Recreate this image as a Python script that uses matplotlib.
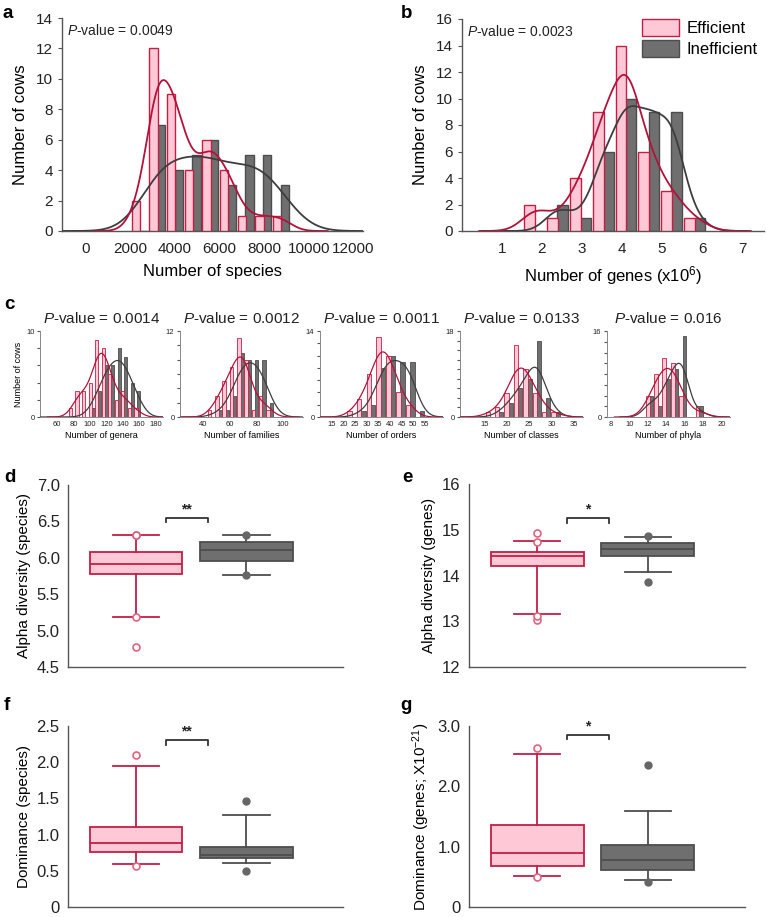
import matplotlib
matplotlib.use('Agg')
import matplotlib.pyplot as plt
from matplotlib.patches import Patch
import numpy as np

plt.rcParams['font.family'] = ['Liberation Sans', 'DejaVu Sans']
plt.rcParams['mathtext.fontset'] = 'custom'
plt.rcParams['mathtext.rm'] = 'Liberation Sans'
plt.rcParams['mathtext.it'] = 'Liberation Sans:italic'

# ---- data: histograms (bin centre, efficient count, inefficient count) ----
a_bins = [2450, 3240, 4030, 4820, 5610, 6400, 7190, 7980, 8770]
a_eff = [2, 12, 9, 4, 6, 4, 1, 1, 1]
a_ineff = [0, 7, 4, 5, 6, 3, 5, 5, 3]

b_bins = [1.83, 2.40, 2.97, 3.54, 4.11, 4.68, 5.25, 5.82]
b_eff = [2, 1, 4, 9, 14, 6, 3, 1]
b_ineff = [0, 2, 1, 6, 10, 9, 9, 1]

genera_bins = [78, 86, 94, 102, 110, 118, 126, 134, 142, 150, 158]
genera_eff = [1, 3, 3, 4, 9, 8, 5, 2, 3, 1, 1]
genera_ineff = [0, 0, 0, 1, 3, 6, 6, 8, 7, 4, 3]

families_bins = [46, 51.5, 57, 62.5, 68, 73.5, 79, 84.5, 90]
families_eff = [1, 3, 5, 7, 11, 8, 1, 3, 1]
families_ineff = [0, 1, 1, 3, 9, 8, 8, 8, 2]

orders_bins = [23.5, 27.7, 31.9, 36.1, 40.3, 44.5, 48.7, 52.9]
orders_eff = [1, 3, 7, 13, 10, 4, 2, 0]
orders_ineff = [0, 1, 2, 8, 10, 9, 9, 1]

classes_bins = [16.2, 18.3, 20.4, 22.5, 24.6, 26.7, 28.8, 30.9]
classes_eff = [1, 2, 5, 15, 10, 5, 1, 1]
classes_ineff = [0, 1, 3, 6, 8, 16, 4, 1]

phyla_bins = [12.2, 13.1, 14.0, 14.9, 15.8, 16.7, 17.6]
phyla_eff = [4, 8, 11, 10, 4, 0, 2]
phyla_ineff = [4, 2, 7, 9, 15, 0, 2]

p_values_c = ['0.0014', '0.0012', '0.0011', '0.0133', '0.016']
c_xlabels = ['Number of genera', 'Number of families', 'Number of orders',
             'Number of classes', 'Number of phyla']

# ---- data: box plots (q1, median, q3, low whisker, high whisker, outliers) ----
d_eff = dict(q1=5.78, med=5.91, q3=6.08, whislo=5.19, whishi=6.32, fliers=[6.32, 6.32, 5.19, 4.78])
d_ineff = dict(q1=5.96, med=6.11, q3=6.22, whislo=5.77, whishi=6.31, fliers=[6.32, 5.77])
e_eff = dict(q1=14.2, med=14.43, q3=14.52, whislo=13.15, whishi=14.75, fliers=[14.93, 14.73, 13.03, 13.12])
e_ineff = dict(q1=14.42, med=14.58, q3=14.7, whislo=14.07, whishi=14.85, fliers=[14.86, 13.85])
f_eff = dict(q1=0.76, med=0.88, q3=1.11, whislo=0.59, whishi=1.95, fliers=[2.1, 0.56])
f_ineff = dict(q1=0.67, med=0.72, q3=0.83, whislo=0.61, whishi=1.27, fliers=[1.46, 0.5])
g_eff = dict(q1=0.68, med=0.9, q3=1.36, whislo=0.52, whishi=2.54, fliers=[2.64, 0.5])
g_ineff = dict(q1=0.61, med=0.78, q3=1.02, whislo=0.45, whishi=1.59, fliers=[2.35, 0.42])

PINK_FILL = '#FFC8D7'
PINK_EDGE = '#C41E45'
PINK_LINE = '#B3123A'
PINK_FLIER = '#E0637F'
GRAY_FILL = '#6F6F6F'
GRAY_EDGE = '#4D4D4D'
GRAY_LINE = '#3E3E3E'
AX_COL = '#555555'

W, H = 766, 917
fig = plt.figure(figsize=(W / 100, H / 100), dpi=100)


def px_axes(l, t, r, b):
    return fig.add_axes([l / W, 1 - b / H, (r - l) / W, (b - t) / H])


def fig_text(x, y, s, **kw):
    fig.text(x / W, 1 - y / H, s, **kw)


def style_axes(ax):
    for s in ['top', 'right']:
        ax.spines[s].set_visible(False)
    for s in ['left', 'bottom']:
        ax.spines[s].set_color(AX_COL)
        ax.spines[s].set_linewidth(1.0)
    ax.tick_params(colors=AX_COL, labelcolor='#222222')


def kde(bins, counts, h, step):
    bins = np.asarray(bins, float)
    counts = np.asarray(counts, float)
    xs = np.linspace(bins.min() - 4 * h, bins.max() + 4 * h, 400)
    u = (xs[:, None] - bins[None, :]) / h
    dens = (counts[None, :] * np.exp(-0.5 * u ** 2)).sum(axis=1) / (h * np.sqrt(2 * np.pi))
    return xs, dens * step


def hist_panel(ax, bins, eff, ineff, h_eff, h_ineff, lw=1.3, edge_lw=1.0):
    step = bins[1] - bins[0]
    w = 0.47 * step
    bins = np.asarray(bins, float)
    ax.bar(bins + w / 2 - 0.03 * step, ineff, width=w, color=GRAY_FILL, edgecolor=GRAY_EDGE,
           linewidth=edge_lw, zorder=2)
    ax.bar(bins - w / 2, eff, width=w, color=PINK_FILL, edgecolor=PINK_EDGE,
           linewidth=edge_lw, zorder=3)
    x, y = kde(bins, ineff, h_ineff, step)
    ax.plot(x, y, color=GRAY_LINE, lw=lw, zorder=4)
    x, y = kde(bins, eff, h_eff, step)
    ax.plot(x, y, color=PINK_LINE, lw=lw, zorder=5)
    style_axes(ax)


# ---------------- panel a ----------------
ax = px_axes(62, 18, 363, 231)
hist_panel(ax, a_bins, a_eff, a_ineff, 520, 1000)
ax.set_xlim(-1045, 12430)
ax.set_ylim(0, 14)
ax.set_xticks(np.arange(0, 12001, 2000))
ax.set_yticks(np.arange(0, 15, 2))
ax.tick_params(axis='x', length=0, labelsize=11, pad=8)
ax.tick_params(axis='y', length=3, labelsize=11)
ax.set_xlabel('Number of species', fontsize=12, labelpad=6)
ax.set_ylabel('Number of cows', fontsize=12, labelpad=6)
ax.text(0.015, 0.975, r'$\mathit{P}$-value = 0.0049', transform=ax.transAxes, fontsize=10,
        va='top', color='#222222')

# ---------------- panel b ----------------
ax = px_axes(462, 19, 764, 231)
hist_panel(ax, b_bins, b_eff, b_ineff, 0.35, 0.33)
ax.set_xlim(0, 7.55)
ax.set_ylim(0, 16)
ax.set_xticks(np.arange(1, 8))
ax.set_yticks(np.arange(0, 17, 2))
ax.tick_params(axis='x', length=0, labelsize=11, pad=8)
ax.tick_params(axis='y', length=3, labelsize=11)
ax.set_xlabel(r'Number of genes (x10$^6$)', fontsize=12, labelpad=6)
ax.set_ylabel('Number of cows', fontsize=12, labelpad=6)
ax.text(0.015, 0.975, r'$\mathit{P}$-value = 0.0023', transform=ax.transAxes, fontsize=10,
        va='top', color='#222222')
handles = [Patch(facecolor=PINK_FILL, edgecolor=PINK_EDGE, label='Efficient'),
           Patch(facecolor=GRAY_FILL, edgecolor=GRAY_EDGE, label='Inefficient')]
ax.legend(handles=handles, loc='upper right', bbox_to_anchor=(1.03, 1.07), frameon=False,
          fontsize=12, handlelength=2.2, handleheight=1.2, labelspacing=0.2, handletextpad=0.5)

# ---------------- panel c ----------------
c_specs = [
    (genera_bins, genera_eff, genera_ineff, 7.5, 10, (39, 189), 10, np.arange(60, 181, 20)),
    (families_bins, families_eff, families_ineff, 5.5, 7, (22.5, 115), 12, np.arange(40, 101, 20)),
    (orders_bins, orders_eff, orders_ineff, 3.4, 3.6, (10, 62.7), 14, np.arange(15, 56, 5)),
    (classes_bins, classes_eff, classes_ineff, 2.1, 1.9, (9.5, 37), 18, np.arange(15, 36, 5)),
    (phyla_bins, phyla_eff, phyla_ineff, 0.95, 0.8, (7.6, 20.9), 16, np.arange(8, 21, 2)),
]
c_lefts = [40, 180, 320, 460, 607]
for i, (bins, eff, ineff, he, hi, xl, ymax, xt) in enumerate(c_specs):
    l = c_lefts[i]
    ax = px_axes(l, 331, l + 123, 417)
    hist_panel(ax, bins, eff, ineff, he, hi, lw=0.9, edge_lw=0.6)
    ax.set_xlim(*xl)
    ax.set_ylim(0, ymax)
    ax.set_xticks(xt)
    yt = np.arange(0, ymax + 1, 2)
    ax.set_yticks(yt)
    ax.set_yticklabels([str(v) if v in (0, ymax) else '' for v in yt])
    ax.tick_params(axis='x', length=0, labelsize=5.5, pad=3)
    ax.tick_params(axis='y', length=2, labelsize=5.5, pad=2)
    for s in ['left', 'bottom']:
        ax.spines[s].set_linewidth(0.7)
        ax.spines[s].set_color('#888888')
    ax.set_xlabel(c_xlabels[i], fontsize=6.5, labelpad=2)
    if i == 0:
        ax.set_ylabel('Number of cows', fontsize=6.5, labelpad=2)
    ax.set_title(r'$\mathit{P}$-value = ' + p_values_c[i], fontsize=11, pad=6, color='#222222')


# ---------------- box plots ----------------
def box_panel(ax, eff, ineff, ylim, yticks, yticklabels, ylabel, bracket_y, stars, tick_h):
    stats = []
    for d in (eff, ineff):
        s = dict(d)
        s['fliers'] = np.array(d['fliers'])
        stats.append(s)
    common = dict(positions=[1, 2], widths=0.84, patch_artist=True, showfliers=True)
    bp = ax.bxp(stats, **common)
    cols = [(PINK_FILL, PINK_EDGE), (GRAY_FILL, GRAY_EDGE)]
    for k, (fc, ec) in enumerate(cols):
        bp['boxes'][k].set(facecolor=fc, edgecolor=ec, linewidth=1.3)
        bp['medians'][k].set(color=ec, linewidth=1.3)
        for wsk in bp['whiskers'][2 * k:2 * k + 2]:
            wsk.set(color=ec, linewidth=1.3)
        for cap in bp['caps'][2 * k:2 * k + 2]:
            cap.set(color=ec, linewidth=1.3, xdata=[1 + k - 0.21, 1 + k + 0.21])
    bp['fliers'][0].set(marker='o', markersize=5, markerfacecolor='white',
                        markeredgecolor=PINK_FLIER, markeredgewidth=1.2)
    bp['fliers'][1].set(marker='o', markersize=5, markerfacecolor='#666666',
                        markeredgecolor='#666666')
    ax.set_xlim(0.384, 2.876)
    ax.set_ylim(*ylim)
    ax.set_xticks([])
    ax.set_yticks(yticks)
    ax.set_yticklabels(yticklabels)
    ax.tick_params(axis='y', length=0, labelsize=12, pad=6)
    style_axes(ax)
    ax.set_ylabel(ylabel, fontsize=11, labelpad=4)
    x0, x1 = 1.27, 1.65
    ax.plot([x0, x0, x1, x1], [bracket_y - tick_h, bracket_y, bracket_y, bracket_y - tick_h],
            color='#333333', lw=1.3)
    ax.text((x0 + x1) / 2, bracket_y + tick_h * 0.4, stars, ha='center', va='bottom',
            fontsize=10, fontweight='bold', color='#222222')


ax = px_axes(68, 485, 343, 667)
box_panel(ax, d_eff, d_ineff, (4.5, 7.0), np.arange(4.5, 7.01, 0.5),
          ['4.5', '5.0', '5.5', '6.0', '6.5', '7.0'], 'Alpha diversity (species)', 6.55, '**', 0.06)

ax = px_axes(469, 484, 745, 667)
box_panel(ax, e_eff, e_ineff, (12, 16), np.arange(12, 17, 1),
          ['12', '13', '14', '15', '16'], 'Alpha diversity (genes)', 15.25, '*', 0.1)

ax = px_axes(68, 726, 343, 907)
box_panel(ax, f_eff, f_ineff, (0, 2.5), np.arange(0, 2.51, 0.5),
          ['0', '0.5', '1.0', '1.5', '2.0', '2.5'], 'Dominance (species)', 2.3, '**', 0.06)

ax = px_axes(469, 726, 745, 907)
box_panel(ax, g_eff, g_ineff, (0, 3.0), np.arange(0, 3.01, 1.0),
          ['0', '1.0', '2.0', '3.0'], r'Dominance (genes; X10$^{-21}$)', 2.85, '*', 0.07)

# ---------------- panel letters ----------------
for letter, x, y in [('a', 3, 14), ('b', 401, 14), ('c', 4, 305), ('d', 4, 478),
                     ('e', 402, 478), ('f', 4, 706), ('g', 400, 706)]:
    fig_text(x, y, letter, fontsize=13.5, fontweight='bold', va='center', ha='left')

fig.savefig('out.png', dpi=100)
